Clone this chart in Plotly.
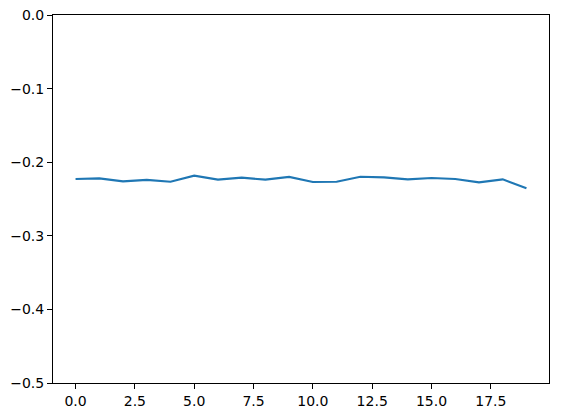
import plotly.graph_objects as go

x_vals = list(range(20))
y_vals = [-0.2228, -0.2220, -0.2260, -0.2240, -0.2265, -0.2183, -0.2237, -0.2210, -0.2237, -0.2200,
          -0.2269, -0.2265, -0.2197, -0.2206, -0.2233, -0.2215, -0.2228, -0.2274, -0.2233, -0.2355]

x_ticks = [0, 2.5, 5, 7.5, 10, 12.5, 15, 17.5]
x_tick_text = ["0.0", "2.5", "5.0", "7.5", "10.0", "12.5", "15.0", "17.5"]
y_ticks = [0, -0.1, -0.2, -0.3, -0.4, -0.5]
y_tick_text = ["0.0", "\u22120.1", "\u22120.2", "\u22120.3", "\u22120.4", "\u22120.5"]

fig = go.Figure(go.Scatter(x=x_vals, y=y_vals, mode="lines",
                           line=dict(color="#1f77b4", width=2.1)))

axis_common = dict(showline=True, linecolor="black", linewidth=1, mirror=True,
                   ticks="outside", ticklen=5, tickwidth=1, tickcolor="black",
                   showgrid=False, zeroline=False, automargin=False,
                   tickfont=dict(family="DejaVu Sans", size=14, color="black"))

fig.update_layout(
    width=562, height=418,
    margin=dict(l=53, r=13, t=15, b=35, autoexpand=False),
    paper_bgcolor="white", plot_bgcolor="white",
    showlegend=False,
    xaxis=dict(range=[-0.95, 19.95], tickvals=x_ticks, ticktext=x_tick_text, **axis_common),
    yaxis=dict(range=[-0.5, 0], tickvals=y_ticks, ticktext=y_tick_text, **axis_common),
)

fig.write_html("out.html",
               config={"displayModeBar": False},
               post_script="document.body.style.margin='0';document.body.style.overflow='hidden';")
